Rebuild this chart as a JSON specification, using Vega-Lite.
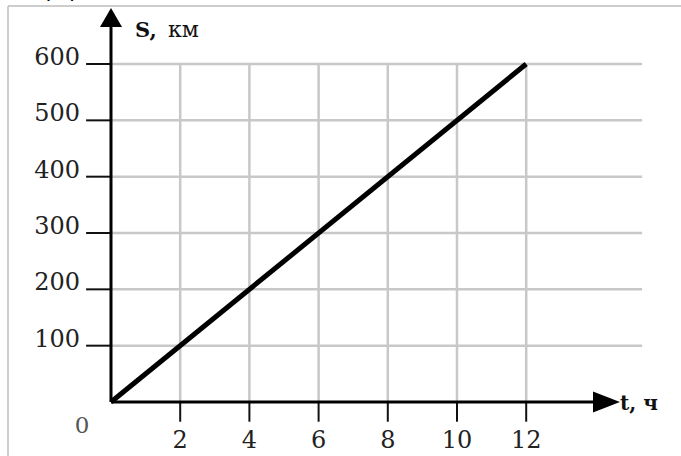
{
  "$schema": "https://vega.github.io/schema/vega-lite/v6.json",
  "width": 681,
  "height": 456,
  "padding": 0,
  "autosize": {"type": "none"},
  "background": "white",
  "config": {"view": {"stroke": null}},
  "datasets": {
    "line": [{"t": 0, "s": 0}, {"t": 12, "s": 600}],
    "hgrid": [{"s": 100}, {"s": 200}, {"s": 300}, {"s": 400}, {"s": 500}, {"s": 600}],
    "vgrid": [{"t": 2}, {"t": 4}, {"t": 6}, {"t": 8}, {"t": 10}, {"t": 12}],
    "one": [{"k": 1}]
  },
  "layer": [
    {
      "data": {"name": "one"},
      "mark": {"type": "rule", "color": "#bdbdbd", "strokeWidth": 1.5},
      "encoding": {
        "x": {"datum": -2.977, "type": "quantitative", "scale": {"domain": [-3.208, 16.474], "nice": false, "zero": false}, "axis": null},
        "x2": {"datum": 16.474},
        "y": {"datum": 703, "type": "quantitative", "scale": {"domain": [-95.86, 713.65], "nice": false, "zero": false}, "axis": null}
      }
    },
    {
      "data": {"name": "one"},
      "mark": {"type": "rule", "color": "#bdbdbd", "strokeWidth": 1.5},
      "encoding": {
        "x": {"datum": -2.977, "type": "quantitative"},
        "y": {"datum": 703, "type": "quantitative"},
        "y2": {"datum": -95.86}
      }
    },
    {
      "data": {"name": "hgrid"},
      "mark": {"type": "rule", "color": "#c8c8c8", "strokeWidth": 2.5},
      "encoding": {
        "x": {"datum": 0, "type": "quantitative"},
        "x2": {"datum": 15.35},
        "y": {"field": "s", "type": "quantitative"}
      }
    },
    {
      "data": {"name": "vgrid"},
      "mark": {"type": "rule", "color": "#c8c8c8", "strokeWidth": 2.5},
      "encoding": {
        "x": {"field": "t", "type": "quantitative"},
        "y": {"datum": 0, "type": "quantitative"},
        "y2": {"datum": 600}
      }
    },
    {
      "data": {"name": "hgrid"},
      "mark": {"type": "rule", "color": "#111111", "strokeWidth": 2},
      "encoding": {
        "x": {"datum": -0.72, "type": "quantitative"},
        "x2": {"datum": 0},
        "y": {"field": "s", "type": "quantitative"}
      }
    },
    {
      "data": {"name": "vgrid"},
      "mark": {"type": "rule", "color": "#111111", "strokeWidth": 2},
      "encoding": {
        "x": {"field": "t", "type": "quantitative"},
        "y": {"datum": 0, "type": "quantitative"},
        "y2": {"datum": -35}
      }
    },
    {
      "data": {"name": "one"},
      "mark": {"type": "rule", "color": "#000000", "strokeWidth": 3},
      "encoding": {
        "x": {"datum": 0, "type": "quantitative"},
        "y": {"datum": 0, "type": "quantitative"},
        "y2": {"datum": 682}
      }
    },
    {
      "data": {"name": "one"},
      "mark": {"type": "rule", "color": "#000000", "strokeWidth": 3},
      "encoding": {
        "x": {"datum": 0, "type": "quantitative"},
        "x2": {"datum": 14.3},
        "y": {"datum": 0, "type": "quantitative"}
      }
    },
    {
      "data": {"name": "one"},
      "mark": {"type": "point", "filled": true, "color": "#000000", "opacity": 1, "size": 484, "shape": "M0,-1L1,0.73L-1,0.73Z"},
      "encoding": {
        "x": {"datum": 0, "type": "quantitative"},
        "y": {"datum": 680, "type": "quantitative"}
      }
    },
    {
      "data": {"name": "one"},
      "mark": {"type": "point", "filled": true, "color": "#000000", "opacity": 1, "size": 729, "shape": "M-1,-0.78L1,0L-1,0.78Z"},
      "encoding": {
        "x": {"datum": 14.32, "type": "quantitative"},
        "y": {"datum": 0, "type": "quantitative"}
      }
    },
    {
      "data": {"name": "line"},
      "mark": {"type": "line", "color": "#000000", "strokeWidth": 5},
      "encoding": {
        "x": {"field": "t", "type": "quantitative"},
        "y": {"field": "s", "type": "quantitative"}
      }
    },
    {
      "data": {"name": "hgrid"},
      "mark": {"type": "text", "font": "DejaVu Serif", "align": "right", "baseline": "alphabetic", "fontSize": 24, "dy": 1, "color": "#222222"},
      "encoding": {
        "x": {"datum": -0.896, "type": "quantitative"},
        "y": {"field": "s", "type": "quantitative"},
        "text": {"field": "s"}
      }
    },
    {
      "data": {"name": "vgrid"},
      "mark": {"type": "text", "font": "DejaVu Serif", "align": "center", "baseline": "alphabetic", "fontSize": 24, "color": "#222222"},
      "encoding": {
        "x": {"field": "t", "type": "quantitative"},
        "y": {"datum": -81.7, "type": "quantitative"},
        "text": {"field": "t"}
      }
    },
    {
      "data": {"name": "one"},
      "mark": {"type": "text", "font": "DejaVu Serif", "align": "center", "baseline": "alphabetic", "fontSize": 23, "color": "#555555", "text": "0"},
      "encoding": {
        "x": {"datum": -0.838, "type": "quantitative"},
        "y": {"datum": -55, "type": "quantitative"}
      }
    },
    {
      "data": {"name": "one"},
      "mark": {"type": "text", "font": "DejaVu Serif", "align": "left", "baseline": "alphabetic", "fontSize": 21, "fontWeight": "bold", "color": "#111111", "text": "S,"},
      "encoding": {
        "x": {"datum": 0.694, "type": "quantitative"},
        "y": {"datum": 648, "type": "quantitative"}
      }
    },
    {
      "data": {"name": "one"},
      "mark": {"type": "text", "font": "DejaVu Serif", "align": "left", "baseline": "alphabetic", "fontSize": 22, "color": "#111111", "text": "км"},
      "encoding": {
        "x": {"datum": 1.647, "type": "quantitative"},
        "y": {"datum": 648, "type": "quantitative"}
      }
    },
    {
      "data": {"name": "one"},
      "mark": {"type": "text", "font": "DejaVu Serif", "align": "left", "baseline": "alphabetic", "fontSize": 20, "fontWeight": "bold", "color": "#111111", "text": "t, ч"},
      "encoding": {
        "x": {"datum": 14.71, "type": "quantitative"},
        "y": {"datum": -14.2, "type": "quantitative"}
      }
    },
    {
      "data": {"name": "one"},
      "mark": {"type": "text", "font": "DejaVu Serif", "align": "left", "baseline": "alphabetic", "fontSize": 32, "fontWeight": "bold", "color": "#000000", "text": "Д"},
      "encoding": {
        "x": {"datum": -1.88, "type": "quantitative"},
        "y": {"datum": 720.5, "type": "quantitative"}
      }
    }
  ]
}
